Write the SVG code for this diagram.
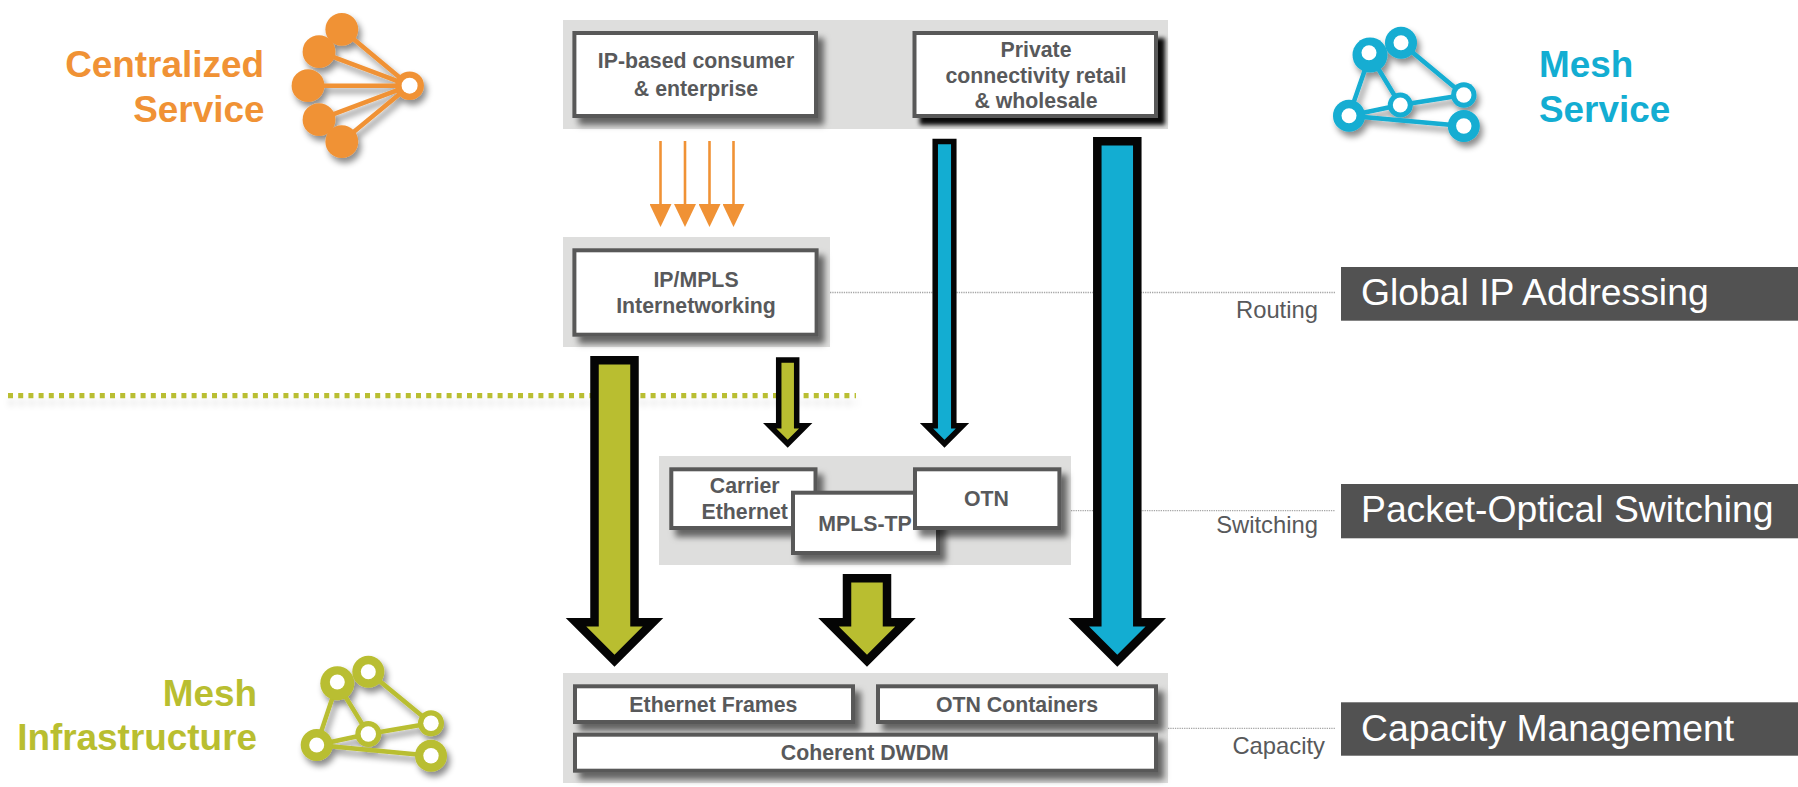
<svg xmlns="http://www.w3.org/2000/svg" width="1798" height="787" viewBox="0 0 1798 787">
<style>
text{font-family:"Liberation Sans",Arial,sans-serif}
.panel{fill:#dededd}
.box{fill:#fff;stroke:#595959;stroke-width:4}
.bt{font-size:21.3px;font-weight:700;fill:#58595b;text-anchor:middle}
.big{font-size:36.9px;font-weight:700}
.orange{fill:#f09235}
.blue{fill:#13add2}
.olive{fill:#b9be30}
.band{fill:#525252}
.bandt{font-size:37.3px;fill:#fff}
.lab{font-size:23.8px;fill:#58595b;text-anchor:end}
.dot{stroke:#a6a6a6;stroke-width:1.3;stroke-dasharray:1.3 1;fill:none}
.arr{stroke:#050505;stroke-miterlimit:10}
.ln{fill:none;stroke-width:4.5}
.ring{fill:#fff}
</style>
<defs>
<filter id="sh" x="-20%" y="-30%" width="140%" height="170%"><feDropShadow dx="6" dy="7" stdDeviation="3" flood-color="#000" flood-opacity=".55"/></filter>
<filter id="shd" x="-20%" y="-30%" width="140%" height="170%"><feDropShadow dx="7" dy="7" stdDeviation="2" flood-color="#000" flood-opacity=".95"/></filter>
<filter id="ish" x="-30%" y="-30%" width="170%" height="170%"><feDropShadow dx="3" dy="5" stdDeviation="3" flood-color="#000" flood-opacity=".45"/></filter>
<filter id="lsh" filterUnits="userSpaceOnUse" x="0" y="380" width="880" height="40"><feDropShadow dx="1" dy="7" stdDeviation="3" flood-color="#000" flood-opacity=".12"/></filter>
<marker id="oh" markerUnits="userSpaceOnUse" markerWidth="24" markerHeight="22" refX="0" refY="11" orient="auto"><path d="M0 0L23 11L0 22z" fill="#f09235"/></marker>
</defs>

<g id="panels">
<rect class="panel" x="563" y="20" width="605" height="109"/>
<rect class="panel" x="563" y="237" width="267" height="110"/>
<rect class="panel" x="659" y="456" width="412" height="109"/>
<rect class="panel" x="563" y="673" width="605" height="110"/>
</g>

<g id="connectors">
<path class="dot" d="M830 292.5H1335M1071 510.7H1335M1168 728.3H1335"/>
<path d="M8 395.6H856" fill="none" stroke="#b9be30" stroke-width="5.3" stroke-dasharray="5 5.2" filter="url(#lsh)"/>
<g stroke="#f09235" stroke-width="2.6" fill="none">
<path d="M660.5 141V204" marker-end="url(#oh)"/>
<path d="M685 141V204" marker-end="url(#oh)"/>
<path d="M709.5 141V204" marker-end="url(#oh)"/>
<path d="M733.5 141V204" marker-end="url(#oh)"/>
</g>
<path class="arr blue" stroke-width="5.5" d="M935.2 141.5H953.8V425.75H962.55L944.5 443.8L926.45 425.75H935.2Z"/>
<path class="arr blue" stroke-width="8.5" d="M1097.3 141.3H1137.3V622.2H1155.8L1117.3 660.7L1078.8 622.2H1097.3Z"/>
<path class="arr olive" stroke-width="8.5" d="M594.5 360.2H634.5V622.2H653L614.5 660.7L576 622.2H594.5Z"/>
<path class="arr olive" stroke-width="5.5" d="M778.7 360H796.7V425.75H805.75L787.7 443.8L769.65 425.75H778.7Z"/>
<path class="arr olive" stroke-width="8.5" d="M847 578.3H887V622.2H905.5L867 660.7L828.5 622.2H847Z"/>
</g>

<g id="node-ip-consumer">
<rect class="box" x="574.4" y="33" width="241.6" height="83" filter="url(#sh)"/>
<text class="bt" x="696" y="68">IP-based consumer</text>
<text class="bt" x="696" y="96">&amp; enterprise</text>
</g>
<g id="node-private">
<rect class="box" x="914.5" y="33" width="241.5" height="83" filter="url(#shd)"/>
<text class="bt" x="1036" y="57">Private</text>
<text class="bt" x="1036" y="83">connectivity retail</text>
<text class="bt" x="1036" y="108">&amp; wholesale</text>
</g>
<g id="node-ipmpls">
<rect class="box" x="574.4" y="250.3" width="242.2" height="84.4" filter="url(#sh)"/>
<text class="bt" x="696" y="286.7">IP/MPLS</text>
<text class="bt" x="696" y="312.7">Internetworking</text>
</g>
<g id="node-carrier-ethernet">
<rect class="box" x="671.3" y="469.3" width="144.2" height="58.7" filter="url(#sh)"/>
<text class="bt" x="744.7" y="493.3">Carrier</text>
<text class="bt" x="744.7" y="519">Ethernet</text>
</g>
<g id="node-mpls-tp">
<rect class="box" x="793" y="492.7" width="145" height="60.3" filter="url(#sh)"/>
<text class="bt" x="865" y="530.7">MPLS-TP</text>
</g>
<g id="node-otn">
<rect class="box" x="915" y="469.3" width="144.4" height="58.7" filter="url(#sh)"/>
<text class="bt" x="986.4" y="505.7">OTN</text>
</g>
<g id="node-ethernet-frames">
<rect class="box" x="575" y="686.3" width="278" height="35.7" filter="url(#sh)"/>
<text class="bt" x="713.4" y="711.7">Ethernet Frames</text>
</g>
<g id="node-otn-containers">
<rect class="box" x="878" y="686.3" width="278" height="35.7" filter="url(#sh)"/>
<text class="bt" x="1017" y="711.7">OTN Containers</text>
</g>
<g id="node-coherent-dwdm">
<rect class="box" x="575" y="734.7" width="581" height="36" filter="url(#sh)"/>
<text class="bt" x="864.8" y="760">Coherent DWDM</text>
</g>

<g id="node-global-ip">
<rect class="band" x="1341" y="267" width="457" height="53.7"/>
<text class="bandt" x="1361" y="305">Global IP Addressing</text>
<text class="lab" x="1318" y="318.3">Routing</text>
</g>
<g id="node-packet-optical">
<rect class="band" x="1341" y="484" width="457" height="54.3"/>
<text class="bandt" x="1361" y="522.3">Packet-Optical Switching</text>
<text class="lab" x="1318" y="532.7">Switching</text>
</g>
<g id="node-capacity">
<rect class="band" x="1341" y="702.3" width="457" height="53.4"/>
<text class="bandt" x="1361" y="741">Capacity Management</text>
<text class="lab" x="1325" y="754">Capacity</text>
</g>

<g id="node-centralized">
<text class="big orange" x="264" y="77" text-anchor="end">Centralized</text>
<text class="big orange" x="264.5" y="122" text-anchor="end">Service</text>
<g filter="url(#ish)">
<path class="ln" stroke="#f09235" d="M341.8 29.3L409.6 85.7M319 51.7L409.6 85.7M308 85.7H409.6M319 119.7L409.6 85.7M341.8 141.7L409.6 85.7"/>
<g class="orange">
<circle cx="341.8" cy="29.3" r="16.4"/><circle cx="319" cy="51.7" r="16.4"/><circle cx="308" cy="85.7" r="16.4"/><circle cx="341.8" cy="141.7" r="16.4"/><circle cx="319" cy="119.7" r="16.4"/>
<circle cx="409.6" cy="85.7" r="14.3"/>
</g>
<circle class="ring" cx="409.6" cy="85.7" r="8"/>
</g>
</g>

<g id="node-mesh-service">
<text class="big blue" x="1539" y="76.7">Mesh</text>
<text class="big blue" x="1539" y="121.7">Service</text>
<g filter="url(#ish)">
<path class="ln" stroke="#13add2" d="M1370 55L1349 115.7M1370 55L1400.3 105M1401 42.7L1463.8 95M1349 115.7L1400.3 105L1463.8 95M1349 115.7L1463.8 126"/>
<g class="blue">
<circle cx="1401" cy="42.7" r="16"/><circle cx="1370" cy="55" r="17.5"/><circle cx="1349" cy="115.7" r="16"/><circle cx="1400.3" cy="105" r="12.5"/><circle cx="1463.8" cy="95" r="12.7"/><circle cx="1463.8" cy="126" r="16"/>
</g>
<g class="ring">
<circle cx="1401" cy="42.7" r="7.5"/><circle cx="1369" cy="52.7" r="7.5"/><circle cx="1349" cy="115.7" r="7.5"/><circle cx="1400.3" cy="105" r="7.5"/><circle cx="1463.8" cy="95" r="7.7"/><circle cx="1463.8" cy="126" r="7.7"/>
</g>
</g>
</g>

<g id="node-mesh-infrastructure">
<text class="big olive" x="257" y="706" text-anchor="end">Mesh</text>
<text class="big olive" x="257" y="750" text-anchor="end">Infrastructure</text>
<g filter="url(#ish)">
<path class="ln" stroke="#b9be30" d="M337.3 683.3L316.7 745M337.3 683.3L368.3 734M368.3 671.7L431 723.3M316.7 745L368.3 734L431 723.3M316.7 745L431 755.7"/>
<g class="olive">
<circle cx="368.3" cy="671.7" r="16"/><circle cx="337.3" cy="683.3" r="17"/><circle cx="316.7" cy="745" r="16"/><circle cx="368.3" cy="734" r="13"/><circle cx="431" cy="723.3" r="13"/><circle cx="431" cy="755.7" r="16"/>
</g>
<g class="ring">
<circle cx="368.3" cy="671.7" r="7.5"/><circle cx="337.3" cy="682" r="7.5"/><circle cx="316.7" cy="745" r="7.5"/><circle cx="368.3" cy="734" r="7.7"/><circle cx="431" cy="723.3" r="7.7"/><circle cx="431" cy="755.7" r="7.7"/>
</g>
</g>
</g>
</svg>
